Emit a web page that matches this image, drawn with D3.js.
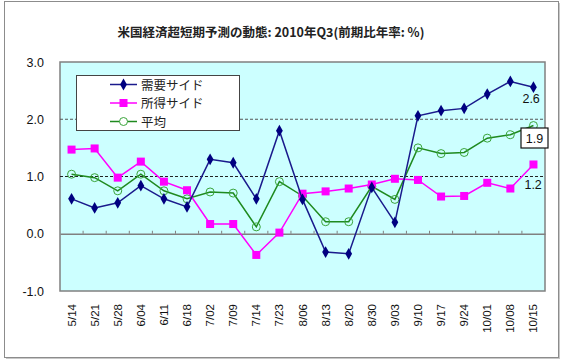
<!DOCTYPE html>
<html>
<head>
<meta charset="utf-8">
<style>
  body { margin: 0; background: #fff; }
  svg { display: block; font-family: "Liberation Sans", Arial, sans-serif; }
</style>
<script src="https://d3js.org/d3.v7.min.js"></script>
</head>
<body>
<div id="chart"></div>
<script>
var categories = ["5/14","5/21","5/28","6/04","6/11","6/18","7/02","7/09","7/14","7/23","8/06","8/13","8/20","8/30","9/03","9/10","9/17","9/24","10/01","10/08","10/15"];
var demand = [0.61,0.45,0.54,0.84,0.61,0.47,1.30,1.24,0.61,1.80,0.60,-0.32,-0.35,0.81,0.20,2.06,2.15,2.19,2.44,2.66,2.56];
var income = [1.47,1.49,0.98,1.26,0.91,0.76,0.17,0.17,-0.37,0.02,0.70,0.74,0.79,0.86,0.96,0.94,0.65,0.66,0.89,0.79,1.21];
var average = [1.04,0.98,0.75,1.04,0.75,0.61,0.73,0.71,0.12,0.91,0.66,0.21,0.21,0.83,0.60,1.50,1.40,1.42,1.67,1.73,1.89];
var yTicks = [-1, 0, 1, 2, 3];
var seriesNames = ["需要サイド", "所得サイド", "平均"];
var endLabels = ["2.6", "1.2", "1.9"];

var W = 564, H = 361;
var pLeft = 60, pRight = 545, pTop = 62, pBottom = 291;

var svg = d3.select("#chart").append("svg").attr("width", W).attr("height", H);

// outer frame
svg.append("rect").attr("x", 4.5).attr("y", 1.5).attr("width", 554).attr("height", 356)
  .attr("fill", "#fff").attr("stroke", "#8c8c8c").attr("stroke-width", 1);
svg.append("line").attr("x1", 559.5).attr("x2", 559.5).attr("y1", 3).attr("y2", 358)
  .attr("stroke", "#c8c8c8");
svg.append("line").attr("x1", 6).attr("x2", 560).attr("y1", 358.5).attr("y2", 358.5)
  .attr("stroke", "#c8c8c8");

svg.append("text").attr("x", 271).attr("y", 37).attr("text-anchor", "middle")
  .attr("font-size", 12.5).attr("font-weight", "bold").attr("fill", "#222")
  .attr("font-family", "'Noto Sans CJK JP', sans-serif")
  .text("米国経済超短期予測の動態: 2010年Q3(前期比年率: %)");

var x = d3.scaleBand().domain(categories).range([pLeft, pRight]);
var y = d3.scaleLinear().domain([-1, 3]).range([pBottom, pTop]);
var cx = function(d, i) { return x(categories[i]) + x.bandwidth() / 2; };

// plot area
svg.append("rect").attr("x", pLeft).attr("y", pTop).attr("width", pRight - pLeft).attr("height", pBottom - pTop)
  .attr("fill", "#ccffff").attr("stroke", "#808080").attr("stroke-width", 1.5);

// grid lines
[1, 2].forEach(function(v) {
  svg.append("line").attr("x1", pLeft).attr("x2", pRight).attr("y1", y(v)).attr("y2", y(v))
    .attr("stroke", v === 1 ? "#222" : "#555").attr("stroke-width", 1).attr("stroke-dasharray", "3,2");
});

// y axis labels
svg.append("g").selectAll("text").data(yTicks).join("text")
  .attr("x", 44).attr("y", function(d) { return y(d) + 4.5; })
  .attr("text-anchor", "end").attr("font-size", 12.5).attr("fill", "#111")
  .text(function(d) { return d.toFixed(1); });

// category axis at zero
var xAxis = d3.axisTop(x).tickSize(0).tickFormat("");
svg.append("g").attr("transform", "translate(0," + y(0) + ")").call(xAxis)
  .call(function(g) { g.select(".domain").attr("stroke", "#808080").attr("stroke-width", 1.5); });
svg.append("g").selectAll("line").data(categories.slice(1)).join("line")
  .attr("x1", function(d) { return x(d); }).attr("x2", function(d) { return x(d); })
  .attr("y1", y(0)).attr("y2", y(0) - 3).attr("stroke", "#808080");

// category labels
svg.append("g").selectAll("text").data(categories).join("text")
  .attr("transform", function(d) { return "translate(" + (x(d) + x.bandwidth() / 2 + 4) + ",304) rotate(-90)"; })
  .attr("text-anchor", "end").attr("font-size", 11.5).attr("fill", "#111")
  .text(function(d) { return d; });

var line = d3.line().x(cx).y(function(d) { return y(d); });

// average
svg.append("path").datum(average).attr("d", line).attr("fill", "none")
  .attr("stroke", "#1f8a1f").attr("stroke-width", 1.5);
svg.append("g").selectAll("circle").data(average).join("circle")
  .attr("cx", cx).attr("cy", function(d) { return y(d); }).attr("r", 4)
  .attr("fill", "none").attr("stroke", "#3aa43a").attr("stroke-width", 1);

// income
svg.append("path").datum(income).attr("d", line).attr("fill", "none")
  .attr("stroke", "#ff00ff").attr("stroke-width", 1.5);
svg.append("g").selectAll("rect").data(income).join("rect")
  .attr("x", function(d, i) { return cx(d, i) - 4; }).attr("y", function(d) { return y(d) - 4; })
  .attr("width", 8).attr("height", 8).attr("fill", "#ff00ff");

// demand
svg.append("path").datum(demand).attr("d", line).attr("fill", "none")
  .attr("stroke", "#1a1a8c").attr("stroke-width", 1.5);
var diamond = d3.symbol().type(d3.symbolDiamond).size(40);
svg.append("g").selectAll("path").data(demand).join("path")
  .attr("d", diamond)
  .attr("transform", function(d, i) { return "translate(" + cx(d, i) + "," + y(d) + ")"; })
  .attr("fill", "#000080");

// end labels
var lastX = cx(null, categories.length - 1);
svg.append("text").attr("x", lastX - 11).attr("y", y(demand[20]) + 16).attr("font-size", 12.5)
  .attr("fill", "#111").text(endLabels[0]);
svg.append("text").attr("x", lastX - 9).attr("y", y(income[20]) + 25).attr("font-size", 12.5)
  .attr("fill", "#111").text(endLabels[1]);
svg.append("rect").attr("x", 521).attr("y", 128).attr("width", 27).attr("height", 20)
  .attr("fill", "#fff").attr("stroke", "#111").attr("stroke-width", 1.2);
svg.append("text").attr("x", 534.5).attr("y", 142.5).attr("text-anchor", "middle").attr("font-size", 12.5)
  .attr("fill", "#111").text(endLabels[2]);

// legend
var lg = svg.append("g");
lg.append("rect").attr("x", 76.5).attr("y", 75.5).attr("width", 163).attr("height", 55)
  .attr("fill", "#fff").attr("stroke", "#444").attr("stroke-width", 1);
var ly = [84.5, 103, 121.5];
var lcol = ["#1a1a8c", "#ff00ff", "#1f8a1f"];
seriesNames.forEach(function(n, i) {
  lg.append("line").attr("x1", 110).attr("x2", 137).attr("y1", ly[i]).attr("y2", ly[i])
    .attr("stroke", lcol[i]).attr("stroke-width", 1.5);
  if (i === 0) lg.append("path").attr("d", diamond).attr("transform", "translate(123.5," + ly[i] + ")").attr("fill", "#000080");
  if (i === 1) lg.append("rect").attr("x", 119.5).attr("y", ly[i] - 4).attr("width", 8).attr("height", 8).attr("fill", "#ff00ff");
  if (i === 2) lg.append("circle").attr("cx", 123.5).attr("cy", ly[i]).attr("r", 4).attr("fill", "#fff").attr("stroke", "#3aa43a");
  lg.append("text").attr("x", 141).attr("y", ly[i] + 5).attr("font-size", 12.5).attr("fill", "#222")
    .attr("font-family", "'Noto Sans CJK JP', sans-serif").text(n);
});
</script>
</body>
</html>
